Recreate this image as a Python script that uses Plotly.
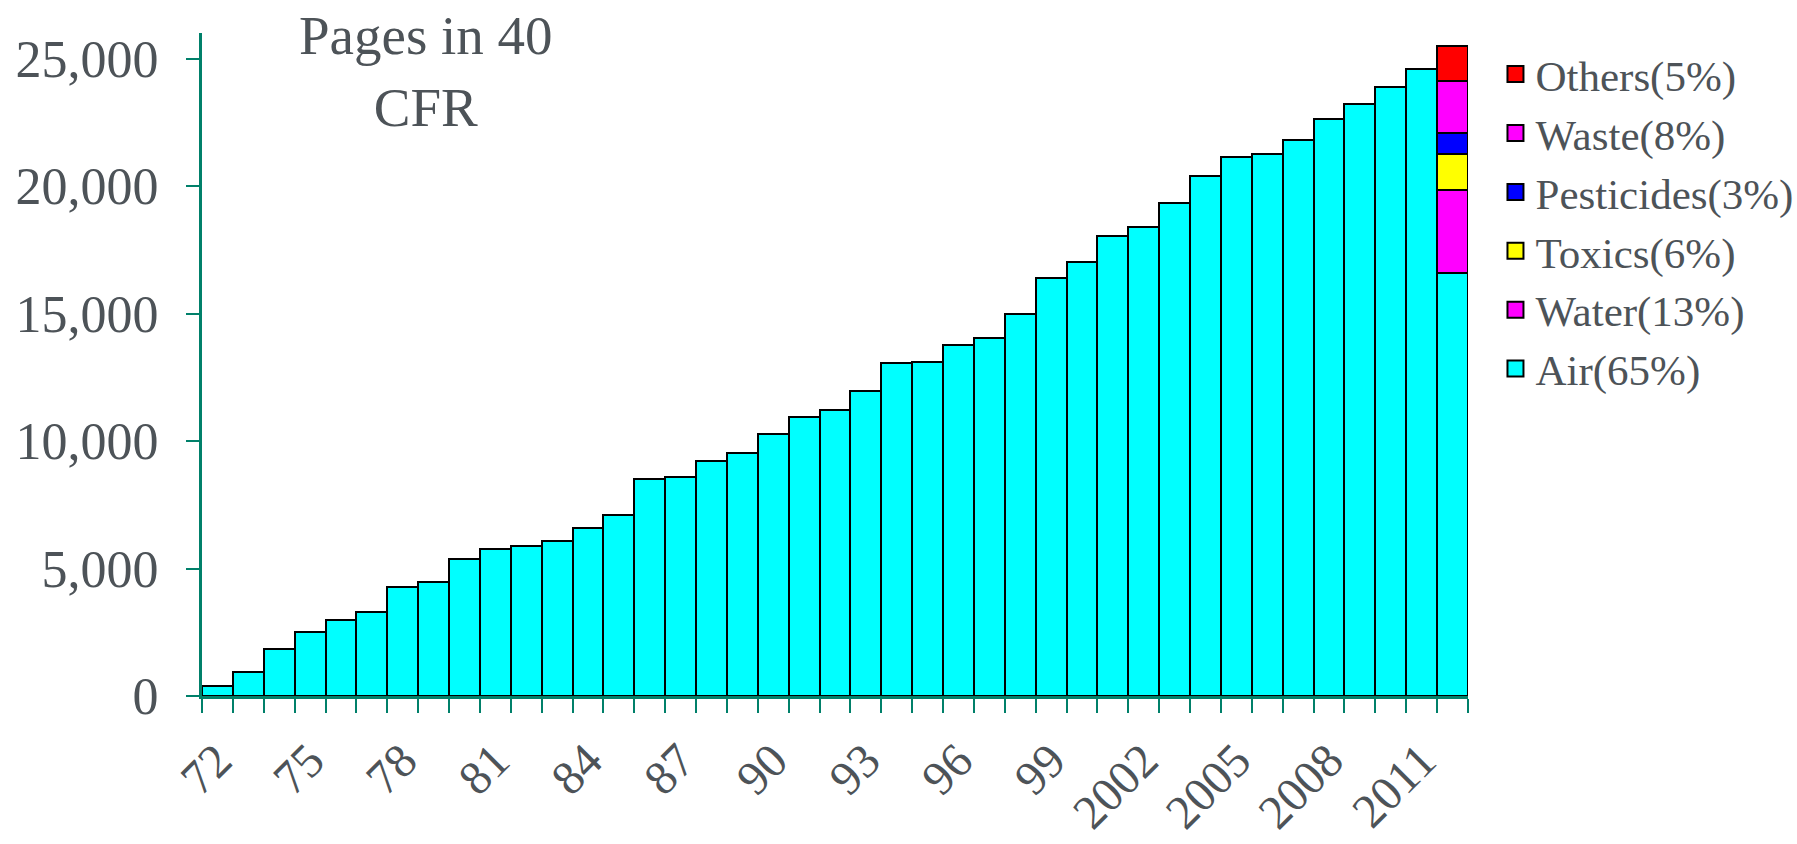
import plotly.graph_objects as go

years = list(range(1972, 2013))
air = [400, 950, 1850, 2520, 2980, 3300, 4280, 4480, 5380, 5780,
       5880, 6080, 6580, 7080, 8500, 8600, 9200, 9520, 10280, 10960,
       11200, 11960, 13060, 13100, 13780, 14040, 14980, 16380, 17020, 18040,
       18400, 19340, 20380, 21150, 21260, 21800, 22610, 23200, 23885, 24570,
       16580]
last_year = [2012]
water = [3260]
toxics = [1420]
pesticides = [820]
waste = [2050]
others = [1360]

series = [
    ("Air(65%)", years, air, "#00FFFF"),
    ("Water(13%)", last_year, water, "#FF00FF"),
    ("Toxics(6%)", last_year, toxics, "#FFFF00"),
    ("Pesticides(3%)", last_year, pesticides, "#0000FF"),
    ("Waste(8%)", last_year, waste, "#FF00FF"),
    ("Others(5%)", last_year, others, "#FF0000"),
]

tick_years = list(range(1972, 2012, 3))
tick_text = [str(y % 100) if y < 2000 else str(y) for y in tick_years]

axis_color = "#00806A"
text_color = "#4D5358"
font_family = "Liberation Serif"

fig = go.Figure()
for name, xs, ys, color in series:
    fig.add_trace(go.Bar(
        x=xs, y=ys, name=name, width=1,
        marker=dict(color=color, line=dict(color="black", width=2.2)),
        showlegend=False, legendgroup=name,
    ))
for name, xs, ys, color in series:
    fig.add_trace(go.Scatter(
        x=[None], y=[None], mode="markers", name=name, legendgroup=name,
        marker=dict(symbol="square", size=16, color=color,
                    line=dict(color="black", width=2)),
        showlegend=True,
    ))

fig.add_annotation(
    text="Pages in 40<br>CFR", xref="paper", yref="paper",
    x=(426 - 202) / 1266, y=1.045, xanchor="center", yanchor="top",
    showarrow=False, font=dict(family=font_family, size=55, color=text_color),
)

fig.update_layout(
    width=1797, height=844,
    margin=dict(l=202, r=329, t=33, b=148, autoexpand=False),
    paper_bgcolor="white", plot_bgcolor="white",
    barmode="stack", bargap=0,
    font=dict(family=font_family, color=text_color),
    legend=dict(
        x=1.0217, y=0.99, xanchor="left", yanchor="top",
        traceorder="reversed", font=dict(family=font_family, size=43, color=text_color),
        itemsizing="trace", bgcolor="rgba(0,0,0,0)",
    ),
    xaxis=dict(
        range=[1971.5, 2012.5], tickmode="array", tickvals=tick_years, ticktext=tick_text,
        tickangle=-45, ticks="outside", ticklen=14, tickcolor="rgba(0,0,0,0)",
        ticklabelstandoff=0,
        tickfont=dict(family=font_family, size=48, color=text_color),
        showline=True, linecolor=axis_color, linewidth=3, showgrid=False, zeroline=False,
        minor=dict(tick0=1971.5, dtick=1, ticks="outside", ticklen=14,
                   tickwidth=2, tickcolor=axis_color, showgrid=False),
    ),
    yaxis=dict(
        range=[0, 26000], tickmode="array", tickvals=[0, 5000, 10000, 15000, 20000, 25000],
        tickformat=",", ticks="outside", ticklen=13, tickwidth=2, tickcolor=axis_color,
        ticklabelstandoff=17,
        tickfont=dict(family=font_family, size=52, color=text_color),
        showline=True, linecolor=axis_color, linewidth=3, showgrid=False, zeroline=False,
    ),
)

fig.write_html("out.html")
